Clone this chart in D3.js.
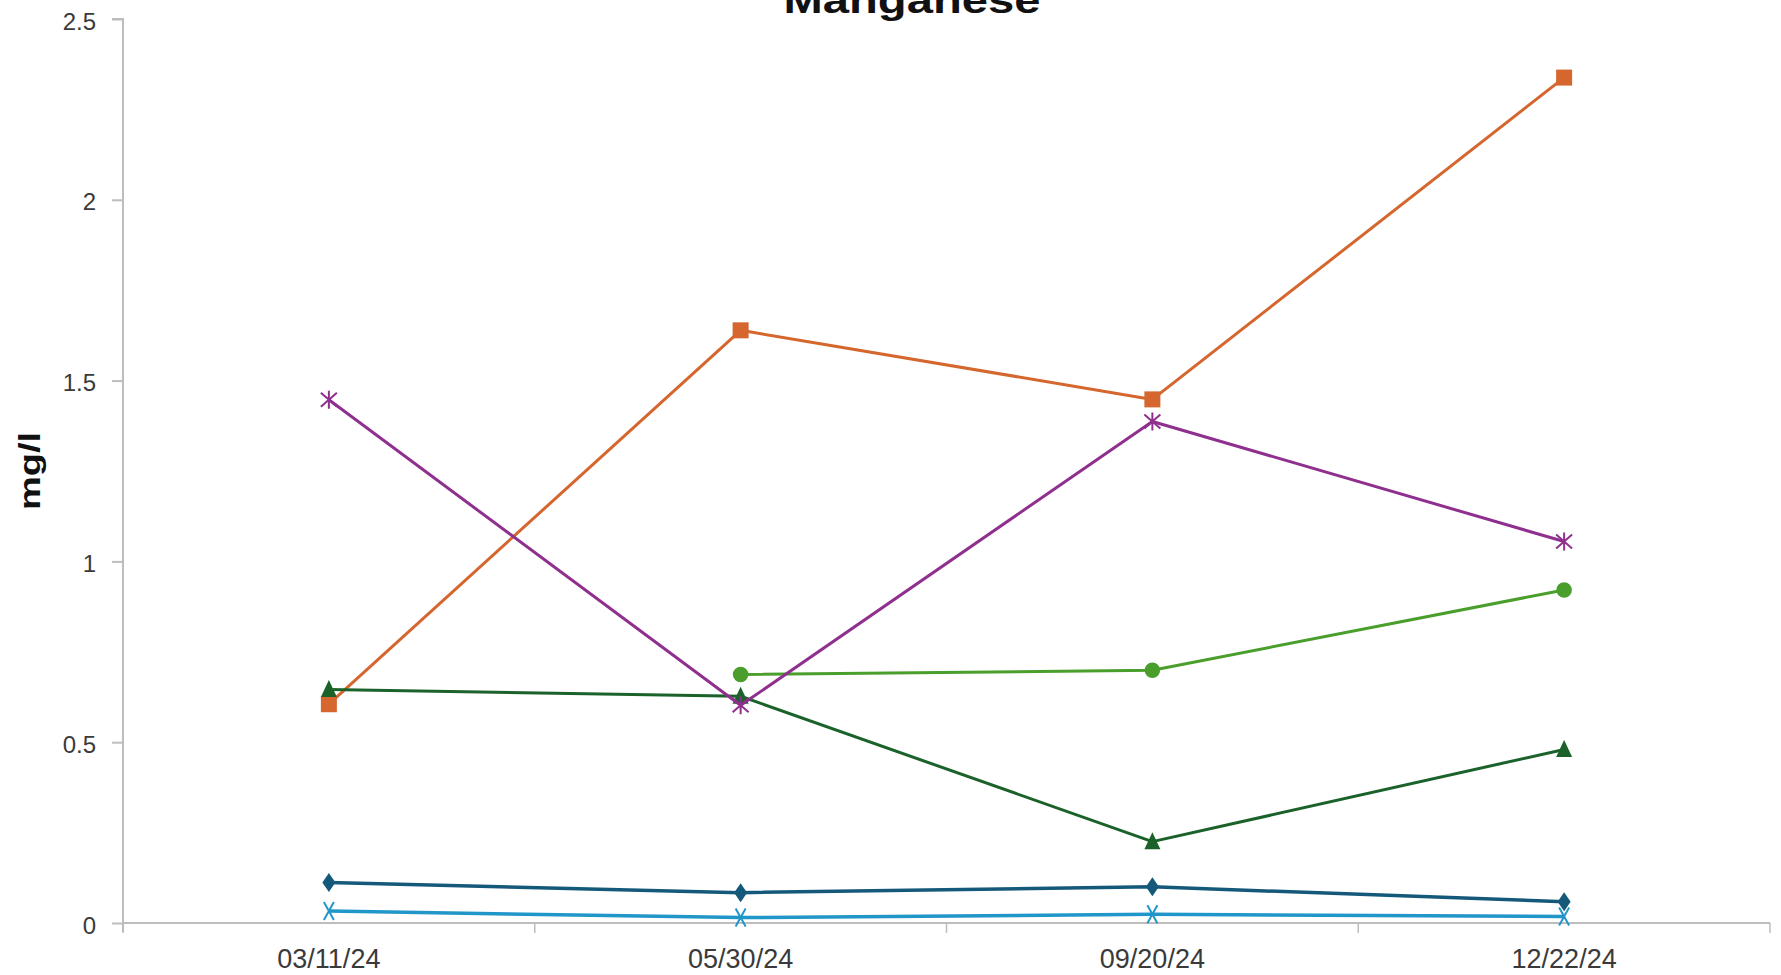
<!DOCTYPE html>
<html>
<head>
<meta charset="utf-8">
<script src="https://cdn.jsdelivr.net/npm/d3@7"></script>
<style>
  html, body { margin: 0; padding: 0; background: #fff; }
  svg { display: block; }
</style>
</head>
<body>
<svg id="chart" width="1781" height="975"></svg>
<script>
// Sampling dates (category axis)
const dates = ["03/11/24", "05/30/24", "09/20/24", "12/22/24"];

// Manganese concentration per sampling point, mg/l (null = not sampled)
const seriesOrange   = [0.605, 1.639, 1.448, 2.338];
const seriesPurple   = [1.447, 0.602, 1.387, 1.055];
const seriesLtGreen  = [null, 0.687, 0.699, 0.921];
const seriesDkGreen  = [0.646, 0.627, 0.225, 0.480];
const seriesDkBlue   = [0.112, 0.084, 0.100, 0.059];
const seriesLtBlue   = [0.033, 0.015, 0.024, 0.018];

const yTicks = [0, 0.5, 1, 1.5, 2, 2.5];
const yTickLabels = ["0", "0.5", "1", "1.5", "2", "2.5"];

const chartTitle = "Manganese";
const yTitle = "mg/l";

const series = [
  { values: seriesDkBlue,  color: "#15597a", marker: "diamond",  width: 3.5 },
  { values: seriesLtBlue,  color: "#2196c8", marker: "x",        width: 3.5 },
  { values: seriesOrange,  color: "#d4662e", marker: "square",   width: 3 },
  { values: seriesLtGreen, color: "#4a9e2b", marker: "circle",   width: 3 },
  { values: seriesDkGreen, color: "#1a622a", marker: "triangle", width: 3 },
  { values: seriesPurple,  color: "#8f2f8e", marker: "asterisk", width: 3 }
];

const svg = d3.select("#chart");
const plot = { left: 123, right: 1770, top: 19, bottom: 923 };

const x = d3.scaleBand().domain(dates).range([plot.left, plot.right]).paddingInner(0).paddingOuter(0);
const y = d3.scaleLinear().domain([0, 2.5]).range([plot.bottom, plot.top]);
const cx = d => x(d) + x.bandwidth() / 2;

const axisColor = "#bdbdbd";
const textColor = "#3a3a3a";

// Y axis
const yAxis = svg.append("g")
  .attr("transform", `translate(${plot.left},0)`)
  .call(d3.axisLeft(y).tickValues(yTicks).tickFormat((d, i) => yTickLabels[i]).tickSize(11).tickPadding(16));
yAxis.select(".domain").attr("stroke", axisColor).attr("stroke-width", 2)
  .attr("d", `M-11,${plot.top}H0V${plot.bottom + 9}`);
yAxis.selectAll(".tick line").attr("stroke", axisColor).attr("stroke-width", 2);
yAxis.selectAll(".tick text")
  .attr("fill", textColor)
  .style("font-family", "Arial, 'Liberation Sans', sans-serif")
  .style("font-size", "24px")
  .attr("dy", "0.42em");

// X axis with ticks at category boundaries
const xAxisG = svg.append("g").attr("transform", `translate(0,${plot.bottom})`);
xAxisG.append("line")
  .attr("x1", plot.left).attr("x2", plot.right)
  .attr("stroke", axisColor).attr("stroke-width", 2);
const boundaries = dates.map(d => x(d)).concat([x(dates[dates.length - 1]) + x.bandwidth()]);
xAxisG.selectAll("line.tick").data(boundaries).join("line")
  .attr("class", "tick")
  .attr("x1", d => d).attr("x2", d => d)
  .attr("y1", 0).attr("y2", 10)
  .attr("stroke", axisColor).attr("stroke-width", 1.5);
xAxisG.selectAll("text").data(dates).join("text")
  .attr("x", d => cx(d))
  .attr("y", 45)
  .attr("text-anchor", "middle")
  .attr("fill", textColor)
  .style("font-family", "Arial, 'Liberation Sans', sans-serif")
  .style("font-size", "27px")
  .text(d => d);

// Titles
svg.append("text")
  .attr("x", 912).attr("y", 13)
  .attr("text-anchor", "middle")
  .attr("textLength", 257).attr("lengthAdjust", "spacingAndGlyphs")
  .attr("fill", "#111")
  .style("font-family", "Arial, 'Liberation Sans', sans-serif")
  .style("font-weight", "bold")
  .style("font-size", "36px")
  .text(chartTitle);

svg.append("text")
  .attr("transform", "translate(40,471) rotate(-90)")
  .attr("text-anchor", "middle")
  .attr("textLength", 78).attr("lengthAdjust", "spacingAndGlyphs")
  .attr("fill", "#111")
  .style("font-family", "Arial, 'Liberation Sans', sans-serif")
  .style("font-weight", "bold")
  .style("font-size", "30px")
  .text(yTitle);

// Marker shapes, centred on the data point
function markerPath(type) {
  switch (type) {
    case "square":   return "M-8,-8H8V8H-8Z";
    case "circle":   return d3.symbol(d3.symbolCircle, 190)();
    case "triangle": return "M0,-9.5L8,7.5H-8Z";
    case "diamond":  return "M0,-9.5L6.5,0L0,9.5L-6.5,0Z";
    case "x":        return "M-5,-9L5,9M5,-9L-5,9";
    case "asterisk": return "M0,-9V9M-8,-7L8,7M8,-7L-8,7";
  }
}

const line = d3.line()
  .defined(d => d.v != null)
  .x(d => cx(d.date))
  .y(d => y(d.v));

series.forEach(s => {
  const pts = s.values.map((v, i) => ({ date: dates[i], v }));
  const g = svg.append("g");
  g.append("path")
    .datum(pts)
    .attr("fill", "none")
    .attr("stroke", s.color)
    .attr("stroke-width", s.width)
    .attr("stroke-linejoin", "round")
    .attr("d", line);
  const stroked = s.marker === "x" || s.marker === "asterisk";
  g.selectAll("path.m").data(pts.filter(d => d.v != null)).join("path")
    .attr("class", "m")
    .attr("transform", d => `translate(${cx(d.date)},${y(d.v)})`)
    .attr("d", markerPath(s.marker))
    .attr("fill", stroked ? "none" : s.color)
    .attr("stroke", stroked ? s.color : "none")
    .attr("stroke-width", stroked ? 2 : 0);
});
</script>
</body>
</html>
